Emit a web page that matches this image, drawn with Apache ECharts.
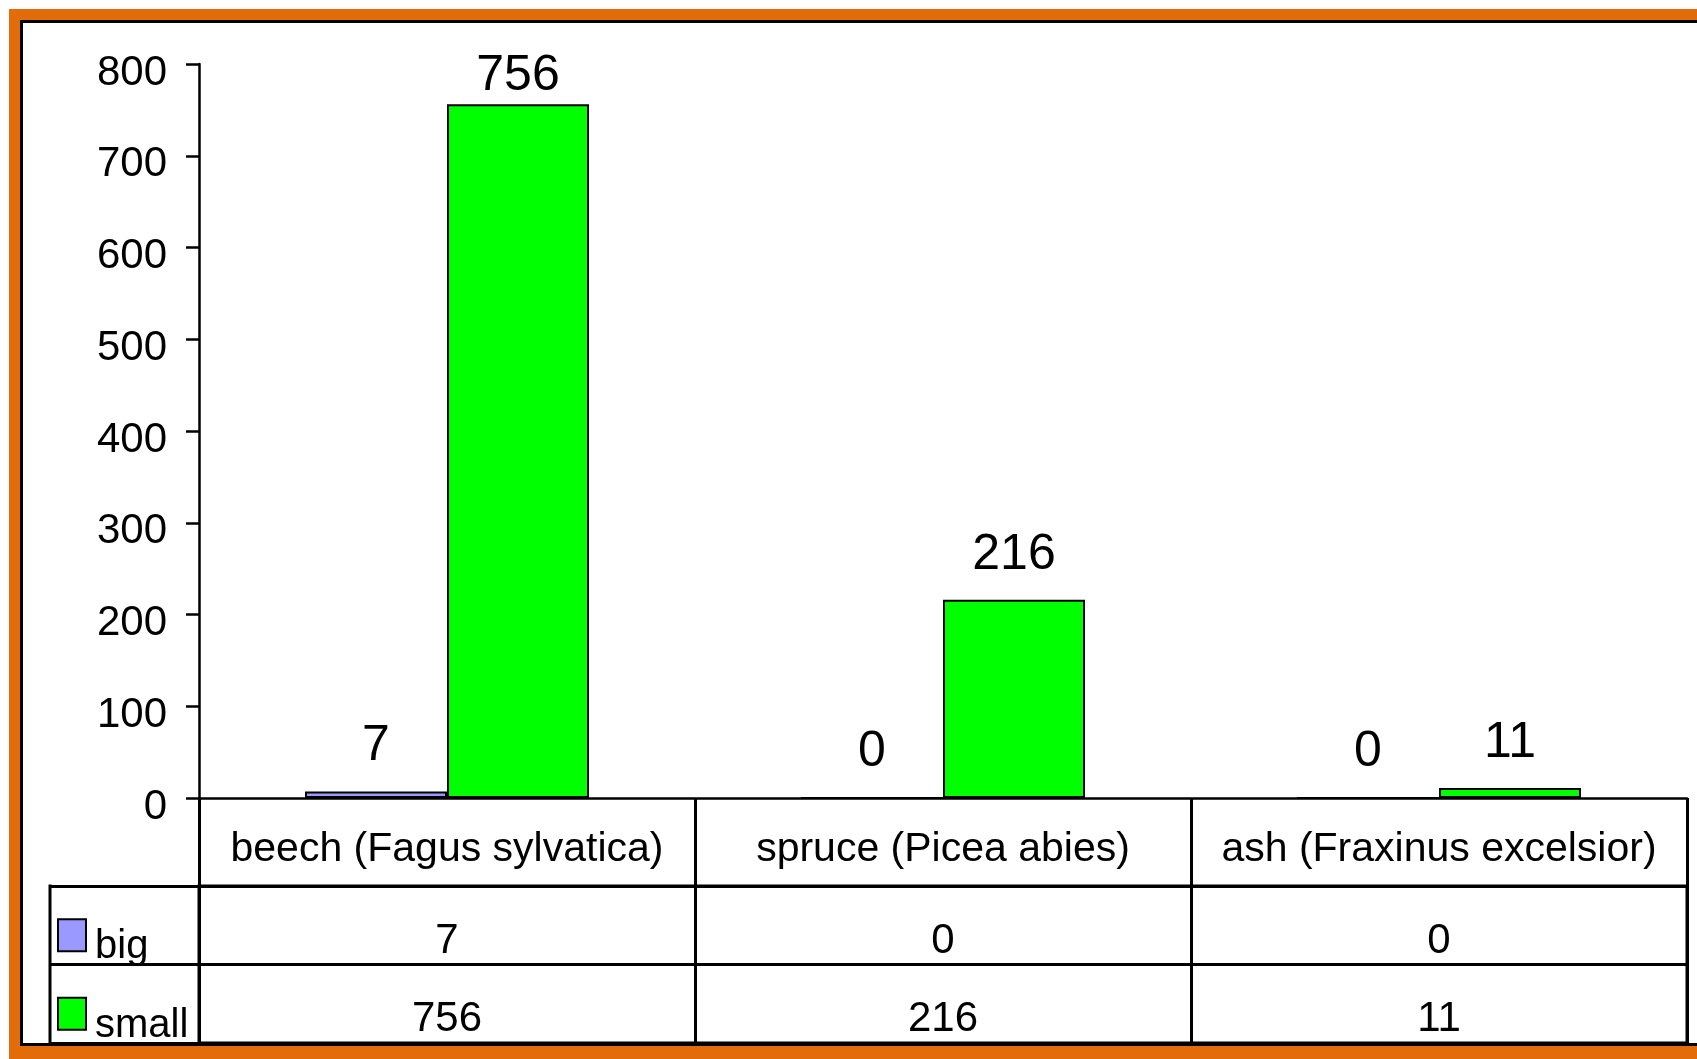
<!DOCTYPE html>
<html>
<head>
<meta charset="utf-8">
<script src="https://cdn.jsdelivr.net/npm/echarts@6/dist/echarts.min.js"></script>
<style>
html,body{margin:0;padding:0;background:#fff}
#chart{width:1697px;height:1059px}
</style>
</head>
<body>
<div id="chart"></div>
<script>
/* data */
const categories = ['beech (Fagus sylvatica)', 'spruce (Picea abies)', 'ash (Fraxinus excelsior)'];
const seriesNames = ['big', 'small'];
const bigVals = [7, 0, 0];
const smallVals = [756, 216, 11];
const colors = ['#9999FF', '#00FF00'];
const yMin = 0, yMax = 800, yStep = 100;

const FONT = '"Liberation Sans Narrow", "Arial Narrow", "Liberation Sans", Arial, sans-serif';
const chart = echarts.init(document.getElementById('chart'));

// table cells: [category index, row name, value]
const tableData = [];
categories.forEach((c, i) => {
    tableData.push([i, seriesNames[0], bigVals[i]]);
    tableData.push([i, seriesNames[1], smallVals[i]]);
});

// tall bars: label closer to top (no room above)
const barData = vals => vals.map(v => v > 700 ? {value: v, label: {distance: 3}} : v);

const option = {
    backgroundColor: '#fff',
    textStyle: {fontFamily: FONT, color: '#000'},
    animation: false,
    graphic: [
        // orange frame
        {type: 'rect', z: -100, silent: true, shape: {x: 9, y: 9, width: 1800, height: 1100}, style: {fill: '#E36C0A'}},
        {type: 'rect', z: -99, silent: true, shape: {x: 21.5, y: 21.5, width: 1800, height: 1023}, style: {fill: '#fff', stroke: '#000', lineWidth: 3}},
        // left edge of legend column
        {type: 'line', z: 10, silent: true, shape: {x1: 50, y1: 884.5, x2: 50, y2: 1044}, style: {stroke: '#000', lineWidth: 3}}
    ],
    grid: [
        {left: 199, right: 10, top: 64, bottom: 261},
        {left: 199, right: 10, top: 886, bottom: 16, show: true, borderColor: '#000', borderWidth: 3, backgroundColor: 'transparent'}
    ],
    xAxis: [
        {
            type: 'category', gridIndex: 0, data: categories,
            axisLine: {lineStyle: {color: '#000', width: 2.5}},
            axisTick: {show: true, length: 88, interval: 0, lineStyle: {color: '#000', width: 3}},
            axisLabel: {fontSize: 41, color: '#000', margin: 31, interval: 0, fontFamily: FONT}
        },
        {
            type: 'category', gridIndex: 1, data: categories,
            axisLine: {show: false}, axisTick: {show: false}, axisLabel: {show: false},
            splitLine: {show: true, interval: 0, lineStyle: {color: '#000', width: 3}}
        }
    ],
    yAxis: [
        {
            type: 'value', gridIndex: 0, min: yMin, max: yMax, interval: yStep,
            splitLine: {show: false},
            axisLine: {show: true, lineStyle: {color: '#000', width: 2.5}},
            axisTick: {show: true, length: 13, lineStyle: {color: '#000', width: 2.5}},
            axisLabel: {
                margin: 32,
                formatter: v => '{n|' + v + '}',
                rich: {n: {fontSize: 42, color: '#000', fontFamily: FONT, padding: [18, 0, 0, 0]}}
            }
        },
        {
            type: 'category', gridIndex: 1, data: seriesNames, inverse: true,
            axisLine: {show: false},
            axisTick: {show: true, length: 150, lineStyle: {color: '#000', width: 3}},
            splitLine: {show: true, lineStyle: {color: '#000', width: 3}},
            axisLabel: {
                margin: 140, align: 'left', padding: [20, 0, 0, 0],
                formatter: (v, i) => '{sq' + i + '|}{gap|}{t|' + v + '}',
                rich: {
                    sq0: {width: 26, height: 30, backgroundColor: colors[0], borderColor: '#000', borderWidth: 2},
                    sq1: {width: 26, height: 30, backgroundColor: colors[1], borderColor: '#000', borderWidth: 2},
                    gap: {width: 10},
                    t: {fontSize: 40, color: '#000', fontFamily: FONT, padding: [24, 0, 0, 0]}
                }
            }
        }
    ],
    series: [
        {
            name: seriesNames[0], type: 'bar', xAxisIndex: 0, yAxisIndex: 0,
            data: barData(bigVals), barWidth: 142, barGap: '0%',
            itemStyle: {color: colors[0], borderColor: '#000', borderWidth: 2},
            label: {show: true, position: 'top', distance: 20, fontSize: 50, color: '#000', fontFamily: FONT}
        },
        {
            name: seriesNames[1], type: 'bar', xAxisIndex: 0, yAxisIndex: 0,
            data: barData(smallVals), barWidth: 142, barGap: '0%',
            itemStyle: {color: colors[1], borderColor: '#000', borderWidth: 2},
            label: {show: true, position: 'top', distance: 20, fontSize: 50, color: '#000', fontFamily: FONT}
        },
        {
            name: 'table', type: 'scatter', xAxisIndex: 1, yAxisIndex: 1,
            data: tableData, symbolSize: 1, silent: true,
            itemStyle: {color: '#fff', opacity: 1},
            label: {show: true, position: 'inside', offset: [0, 16], fontSize: 42, color: '#000',
                textBorderWidth: 0, fontFamily: FONT,
                formatter: p => String(p.value[2])}
        }
    ]
};

chart.setOption(option);
</script>
</body>
</html>
